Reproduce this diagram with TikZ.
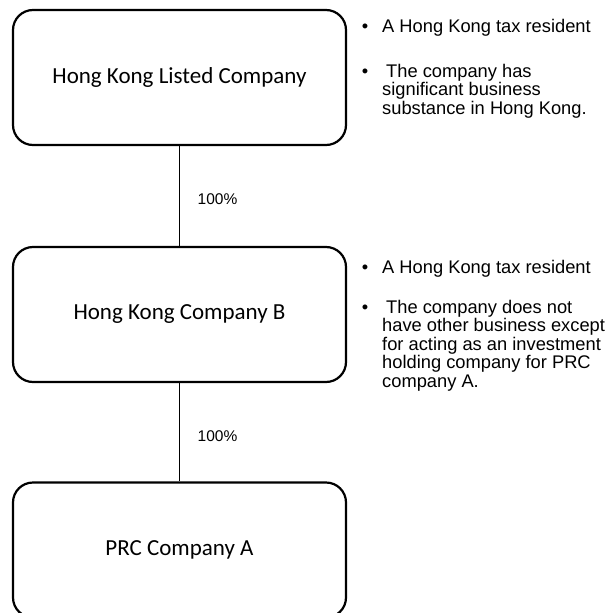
\documentclass[tikz,border=0pt]{standalone}
\usepackage{fontspec}
\setmainfont{Carlito}
\newfontfamily\arialf{Liberation Sans}
\begin{document}
\begin{tikzpicture}[x=1pt,y=-1pt,
  box/.style={draw=black,line width=2.2pt,rounded corners=20pt,minimum width=333pt,minimum height=135pt,font=\fontsize{23}{27}\selectfont,inner sep=0pt},
  link/.style={draw=black,line width=0.9pt},
  pct/.style={font=\arialf\fontsize{15.5}{18}\selectfont,inner sep=0pt},
  bul/.style={font=\arialf\fontsize{18.3}{18.5}\selectfont,inner sep=0pt,anchor=base west,align=left},
  dot/.style={font=\arialf\fontsize{18.3}{18.5}\selectfont,inner sep=0pt,anchor=base}]
\useasboundingbox (0,0) rectangle (607,613);
\clip (0,0) rectangle (607,613);
\node[box] (b1) at (179.5,77.5) {Hong Kong Listed Company};
\node[box] (b2) at (179.5,314.5) {Hong Kong Company B};
\node[box] (b3) at (179.5,550) {PRC Company A};
\draw[link] (b1.south) -- (b2.north);
\draw[link] (b2.south) -- (b3.north);
\node[pct] (p1) at (217.5,199) {100\%};
\node[pct] (p2) at (217.5,436) {100\%};
% bullets for first company (base anchor = last line's baseline)
\node[dot] (d1) at (365,32) {•};
\node[bul] (t1) at (382,32) {A Hong Kong tax resident};
\node[dot] (d2) at (365,77) {•};
\node[bul] (t2) at (382,114) {\hspace*{4pt}The company has\\significant business\\substance in Hong Kong.};
% bullets for second company
\node[dot] (d3) at (365,273) {•};
\node[bul] (t3) at (382,273) {A Hong Kong tax resident};
\node[dot] (d4) at (365,313) {•};
\node[bul] (t4) at (382,387) {\hspace*{4pt}The company does not\\have other business except\\for acting as an investment\\holding company for PRC\\company A.};
\end{tikzpicture}
\end{document}
